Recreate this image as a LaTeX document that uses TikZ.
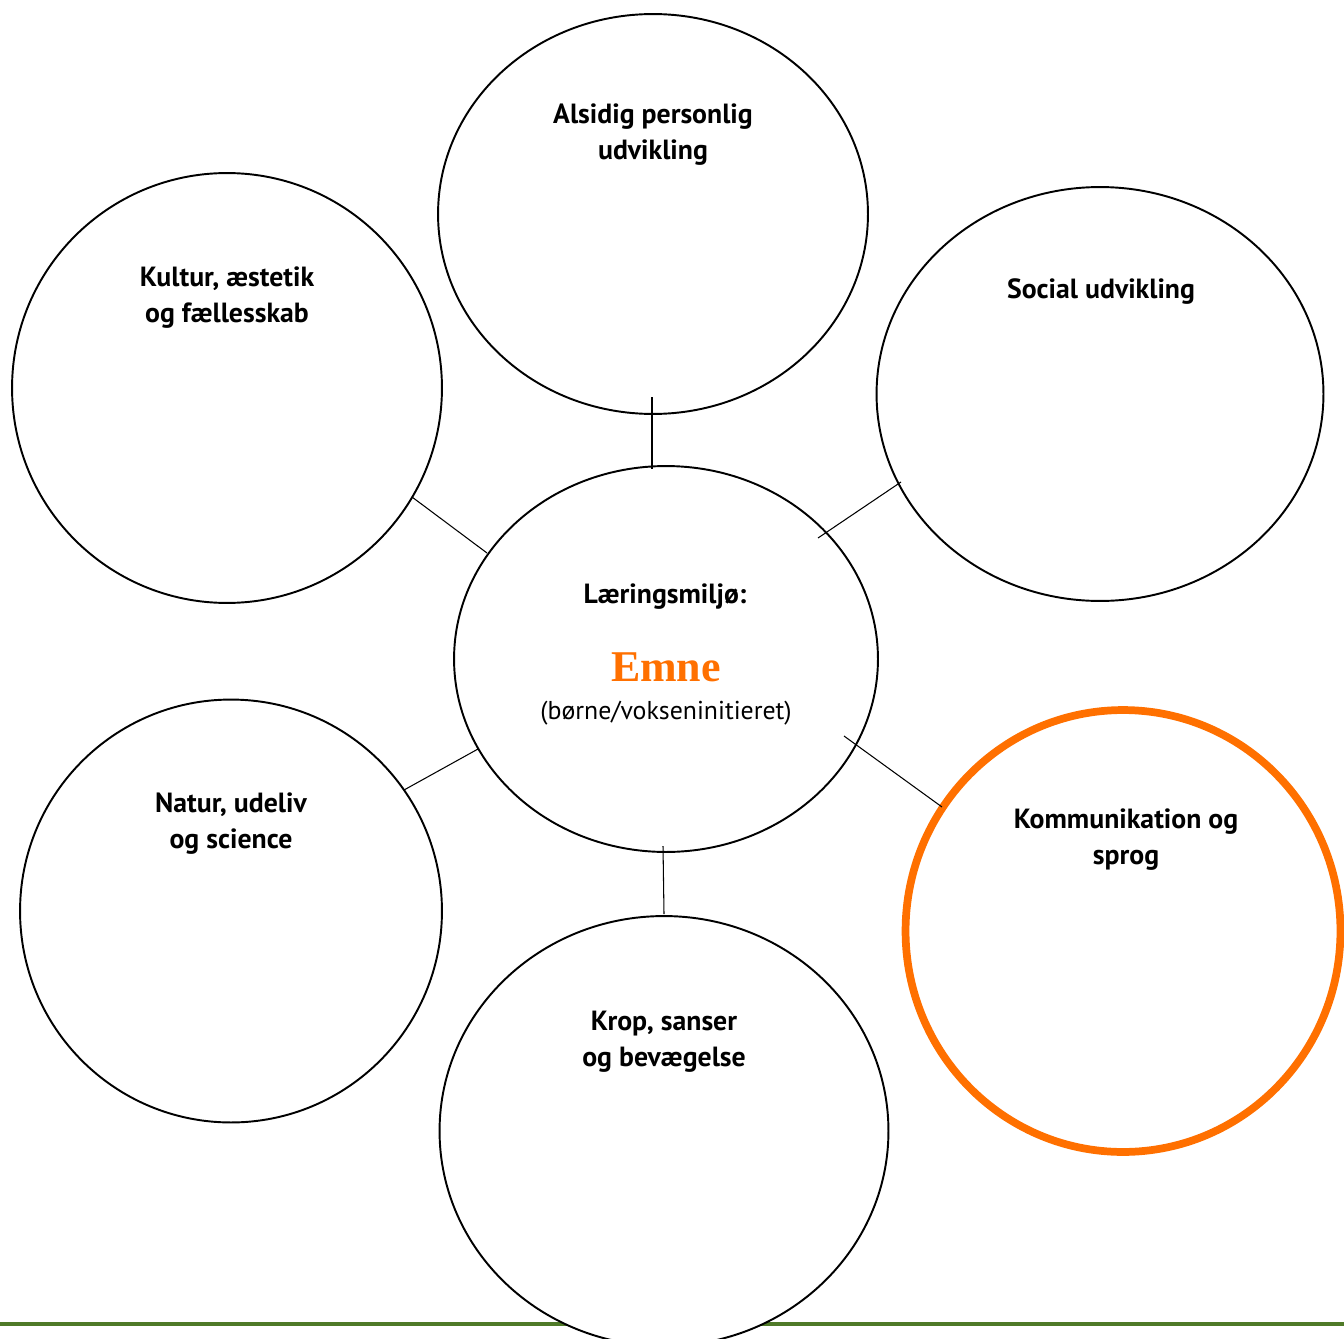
\documentclass[tikz,border=0pt]{standalone}
\usepackage{fontspec}
\setmainfont{PT Sans}
\newfontfamily\emnefont{Liberation Serif}
\usetikzlibrary{shapes.geometric}
\definecolor{emneorange}{RGB}{255,112,0}
\definecolor{footgreen}{RGB}{79,122,40}
\tikzset{
  omraade/.style={ellipse,draw,line width=1.1pt,fill=white,inner sep=0pt},
  titel/.style={align=center,font=\bfseries\fontsize{15.8}{20.5}\selectfont},
  streg/.style={line width=0.6pt},
}

\begin{document}
\begin{tikzpicture}[x=0.02cm,y=-0.02cm]
\useasboundingbox (0,0) rectangle (1344,1338);
\clip (0,0) rectangle (1344,1338);

\coordinate (alsidigM) at (653,214);
\coordinate (kulturM) at (227,388);
\coordinate (socialM) at (1100,394);
\coordinate (laeringM) at (666,659);
\coordinate (naturM) at (231,911);
\coordinate (kommM) at (1123,931);
\coordinate (kropM) at (664,1131);

\draw[footgreen, line width=2.2pt] (0,1324) -- (1344,1324) ; %footer rule

\node[omraade, minimum width=8.6cm, minimum height=8.0cm] (alsidig) at (alsidigM) {};
\node[omraade, minimum width=8.6cm, minimum height=8.6cm] (kultur) at (kulturM) {};
\node[omraade, minimum width=8.94cm, minimum height=8.28cm] (social) at (socialM) {};
\node[omraade, minimum width=8.48cm, minimum height=7.72cm] (laering) at (laeringM) {};
\node[omraade, minimum width=8.44cm, minimum height=8.46cm] (natur) at (naturM) {};
\node[omraade, draw=emneorange, line width=4.4pt, minimum width=8.7cm, minimum height=8.84cm] (komm) at (kommM) {};
\node[omraade, minimum width=8.98cm, minimum height=8.6cm] (krop) at (kropM) {};

\node[titel] (alsidigTxt) at (653,135) {Alsidig personlig\\udvikling};
\node[titel] (kulturTxt) at (227,298) {Kultur, æstetik\\og fællesskab};
\node[titel] (socialTxt) at (1101,292) {Social udvikling};
\node[titel] (laeringTxt) at (665,597) {Læringsmiljø:};
\node[text=emneorange, font=\emnefont\bfseries\fontsize{25}{28}\selectfont] (emne) at (666,667) {Emne};
\node[font=\fontsize{14.7}{17}\selectfont] (initiativ) at (666,713) {(børne/vokseninitieret)};
\node[titel] (naturTxt) at (231,824) {Natur, udeliv\\og science};
\node[titel] (kommTxt) at (1126,840) {Kommunikation og\\sprog};
\node[titel] (kropTxt) at (664,1042) {Krop, sanser\\og bevægelse};

\coordinate (a1) at (652,397); \coordinate (a2) at (652,469);
\coordinate (b1) at (412,497); \coordinate (b2) at (487,553);
\coordinate (c1) at (901,482); \coordinate (c2) at (818,538);
\coordinate (d1) at (404,790); \coordinate (d2) at (478,749);
\coordinate (e1) at (844,736); \coordinate (e2) at (942,807);
\coordinate (f1) at (663,846); \coordinate (f2) at (664,914);

\draw[streg] (a1) -- (a2) ;
\draw[streg] (b1) -- (b2) ;
\draw[streg] (c1) -- (c2) ;
\draw[streg] (d1) -- (d2) ;
\draw[streg] (e1) -- (e2) ;
\draw[streg] (f1) -- (f2) ;

\end{tikzpicture}
\end{document}
